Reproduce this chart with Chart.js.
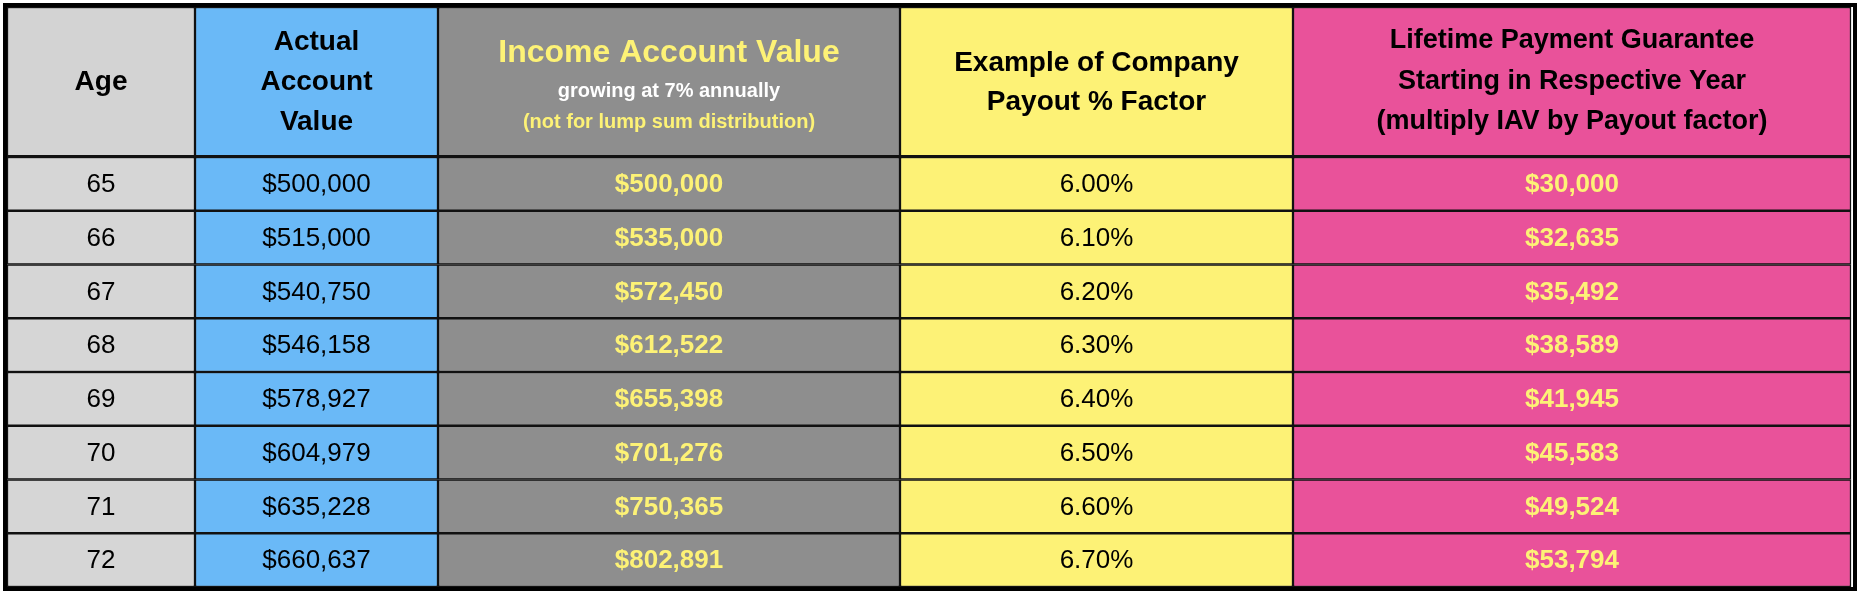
<!DOCTYPE html>
<html><head><meta charset="utf-8">
<script src="https://cdn.jsdelivr.net/npm/chart.js@4.4.1/dist/chart.umd.min.js"></script>
<style>
html,body{margin:0;padding:0;background:#fff;width:1858px;height:592px;overflow:hidden}
#frame{position:absolute;left:3px;top:3px;width:1846px;height:580px;border:4px solid #000;box-sizing:content-box;pointer-events:none;z-index:5}
.c{position:absolute;left:0;width:1858px}
</style></head><body>
<div id="frame"></div>
<div class="c" style="top:7px;height:150px"><canvas id="h"></canvas></div>
<div class="c" style="top:157px;height:430px"><canvas id="b"></canvas></div>
<script>
// ---- data ----
const ages = [65,66,67,68,69,70,71,72];
const actualValue = [500000,515000,540750,546158,578927,604979,635228,660637];
const incomeValue = [500000,535000,572450,612522,655398,701276,750365,802891];
const payoutFactor = [6.00,6.10,6.20,6.30,6.40,6.50,6.60,6.70];
const lifetimePayment = [30000,32635,35492,38589,41945,45583,49524,53794];
const headerAge = ["Age"];
const headerActual = ["Actual","Account","Value"];
const headerIncome = ["Income Account Value","growing at 7% annually","(not for lump sum distribution)"];
const headerPayout = ["Example of Company","Payout % Factor"];
const headerLifetime = ["Lifetime Payment Guarantee","Starting in Respective Year","(multiply IAV by Payout factor)"];

// ---- layout / style ----
const colEdges = [7,195,438,900,1293,1851];
const YEL = '#fdf276';
const fmt$ = v => '$' + v.toLocaleString('en-US');
const columns = [
  {fill:'#d6d6d6', hfill:'#d3d3d3', text: ages.map(String), color:'#000', weight:'normal'},
  {fill:'#6ab9f7', hfill:'#6ab9f7', text: actualValue.map(fmt$), color:'#000', weight:'normal'},
  {fill:'#8e8e8e', hfill:'#8e8e8e', text: incomeValue.map(fmt$), color:YEL, weight:'bold'},
  {fill:'#fdf276', hfill:'#fdf276', text: payoutFactor.map(v=>v.toFixed(2)+'%'), color:'#000', weight:'normal'},
  {fill:'#e9529a', hfill:'#e9529a', text: lifetimePayment.map(fmt$), color:YEL, weight:'bold'}
];
const headerStyles = [
  {lines:headerAge, spec:[{s:28,c:'#000',o:0}]},
  {lines:headerActual, spec:[{s:28,c:'#000',o:-40},{s:28,c:'#000',o:0},{s:28,c:'#000',o:40}]},
  {lines:headerIncome, spec:[{s:32,c:YEL,o:-29},{s:20,c:'#fff',o:9},{s:20,c:YEL,o:40}]},
  {lines:headerPayout, spec:[{s:28,c:'#000',o:-19},{s:28,c:'#000',o:20}]},
  {lines:headerLifetime, spec:[{s:27,c:'#000',o:-41},{s:27,c:'#000',o:0},{s:27,c:'#000',o:40}]}
];
const FONT = '"Liberation Sans", Arial, Helvetica, sans-serif';

const scales = {
  x:{type:'linear',min:0,max:1858,display:false},
  y:{display:false,offset:true,grid:{display:false}}
};
const common = {
  indexAxis:'y', responsive:true, maintainAspectRatio:false, animation:false,
  layout:{padding:0}, plugins:{legend:{display:false},tooltip:{enabled:false}}, scales
};
const barDs = (data, fill) => ({data, backgroundColor:fill, borderColor:'#111', borderWidth:1.5,
  borderSkipped:false, barPercentage:1, categoryPercentage:1, grouped:false});

// body
new Chart(document.getElementById('b'), {
  type:'bar',
  data:{labels:ages.map(String), datasets: columns.map((c,i)=>barDs(ages.map(()=>[colEdges[i],colEdges[i+1]]), c.fill))},
  options:common,
  plugins:[{id:'txt', afterDatasetsDraw(chart){
    const ctx=chart.ctx; ctx.save(); ctx.textAlign='center'; ctx.textBaseline='middle';
    chart.data.datasets.forEach((ds,i)=>{
      const c=columns[i]; ctx.fillStyle=c.color; ctx.font=c.weight+' 26px '+FONT;
      chart.getDatasetMeta(i).data.forEach((el,j)=>{ ctx.fillText(c.text[j],(el.x+el.base)/2, el.y+1); });
    }); ctx.restore(); }}]
});
// header
new Chart(document.getElementById('h'), {
  type:'bar',
  data:{labels:['header'], datasets: columns.map((c,i)=>barDs([[colEdges[i],colEdges[i+1]]], c.hfill))},
  options:common,
  plugins:[{id:'htxt', afterDatasetsDraw(chart){
    const ctx=chart.ctx; ctx.save(); ctx.textAlign='center'; ctx.textBaseline='middle';
    headerStyles.forEach((h,i)=>{
      const el=chart.getDatasetMeta(i).data[0];
      h.lines.forEach((t,k)=>{ const s=h.spec[k]; ctx.fillStyle=s.c; ctx.font='bold '+s.s+'px '+FONT;
        ctx.fillText(t,(el.x+el.base)/2, el.y+s.o); });
    });
    const x0=chart.scales.x.getPixelForValue(colEdges[0]), x1=chart.scales.x.getPixelForValue(colEdges[colEdges.length-1]);
    ctx.fillStyle='#111'; ctx.fillRect(x0,chart.height-2,x1-x0,2);
    ctx.restore(); }}]
});
</script></body></html>
